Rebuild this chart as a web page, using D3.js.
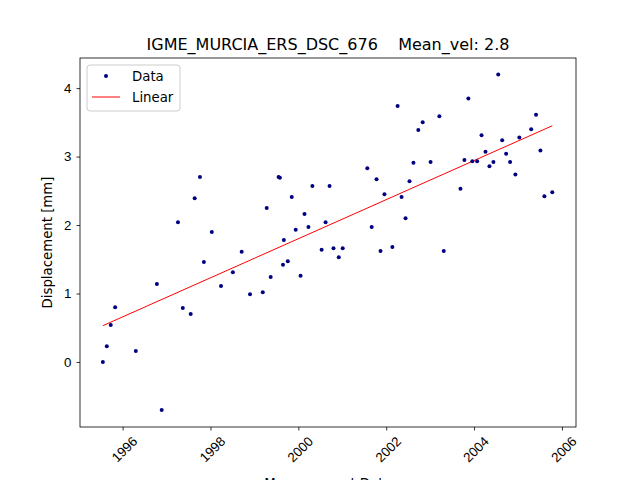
<!DOCTYPE html>
<html><head><meta charset="utf-8">
<script src="https://cdn.jsdelivr.net/npm/d3@7"></script>
<style>body{margin:0;background:#fff;overflow:hidden}svg{font-family:"DejaVu Sans",sans-serif;display:block}</style>
</head><body>
<script>
var years = [1995.55,1995.64,1995.73,1995.83,1996.30,1996.78,1996.89,1997.26,1997.37,1997.55,1997.64,1997.76,1997.85,1998.03,1998.24,1998.51,1998.71,1998.90,1999.19,1999.28,1999.37,1999.55,1999.58,1999.67,1999.65,1999.76,1999.85,1999.94,2000.05,2000.14,2000.23,2000.32,2000.53,2000.62,2000.71,2000.80,2000.92,2001.01,2001.57,2001.67,2001.78,2001.87,2001.96,2002.14,2002.26,2002.35,2002.44,2002.53,2002.62,2002.73,2002.83,2003.01,2003.21,2003.31,2003.69,2003.78,2003.87,2003.96,2004.07,2004.17,2004.26,2004.35,2004.44,2004.55,2004.64,2004.73,2004.82,2004.94,2005.03,2005.30,2005.41,2005.51,2005.60,2005.78];
var disp = [0.00,0.23,0.54,0.80,0.16,1.14,-0.70,2.04,0.79,0.70,2.39,2.70,1.46,1.90,1.11,1.31,1.61,0.99,1.02,2.25,1.24,2.70,2.69,1.78,1.42,1.47,2.41,1.93,1.26,2.16,1.97,2.57,1.64,2.04,2.57,1.66,1.53,1.66,2.83,1.97,2.67,1.62,2.45,1.68,3.74,2.41,2.10,2.64,2.91,3.39,3.50,2.92,3.59,1.62,2.53,2.95,3.85,2.93,2.93,3.31,3.07,2.86,2.92,4.20,3.24,3.04,2.92,2.74,3.28,3.40,3.61,3.09,2.42,2.48];
var fitYears = [1995.55, 2005.78];
var fitDisp = [0.53, 3.45];
var xTicks = [1996,1998,2000,2002,2004,2006];
var yTicks = [0,1,2,3,4];

var W = 640, H = 480, L = 80, R = 576, T = 58, B = 427;
var svg = d3.select("body").append("svg").attr("width", W).attr("height", H);
var x = d3.scaleLinear().domain([1995.03, 2006.32]).range([L, R]);
var y = d3.scaleLinear().domain([-0.95, 4.44]).range([B, T]);

var gx = svg.append("g").attr("transform", "translate(0," + B + ")")
  .call(d3.axisBottom(x).tickValues(xTicks).tickFormat(d3.format("d")).tickSize(3.5).tickPadding(3));
gx.selectAll("text").attr("font-size", 13.3).attr("fill", "#000")
  .attr("text-anchor", "end").attr("dy", "0.7em")
  .attr("transform", "translate(4,4) rotate(-45)");
var gy = svg.append("g").attr("transform", "translate(" + L + ",0)")
  .call(d3.axisLeft(y).tickValues(yTicks).tickFormat(d3.format("d")).tickSize(3.5).tickPadding(5));
gy.selectAll("text").attr("font-size", 13.3).attr("fill", "#000");
svg.selectAll(".domain").remove();
svg.selectAll(".tick line").attr("stroke", "#000").attr("stroke-width", 0.8);

svg.append("path")
  .datum(d3.zip(fitYears, fitDisp))
  .attr("d", d3.line().x(d => x(d[0])).y(d => y(d[1])))
  .attr("stroke", "red").attr("stroke-width", 1).attr("fill", "none");

svg.selectAll("circle.pt").data(d3.zip(years, disp)).enter().append("circle")
  .attr("class", "pt").attr("cx", d => x(d[0])).attr("cy", d => y(d[1]))
  .attr("r", 2).attr("fill", "#000080");

svg.append("rect").attr("x", L).attr("y", T).attr("width", R - L).attr("height", B - T)
  .attr("fill", "none").attr("stroke", "#000").attr("stroke-width", 0.8);

svg.append("text").attr("x", (L + R) / 2).attr("y", 50).attr("text-anchor", "middle")
  .attr("font-size", 16).style("white-space", "pre").text("IGME_MURCIA_ERS_DSC_676    Mean_vel: 2.8");
svg.append("text").attr("transform", "translate(52," + ((T + B) / 2) + ") rotate(-90)")
  .attr("text-anchor", "middle").attr("font-size", 13.3).text("Displacement [mm]");
svg.append("text").attr("x", (L + R) / 2).attr("y", 488).attr("text-anchor", "middle")
  .attr("font-size", 13.3).text("Measurement Date");

var lg = svg.append("g").attr("transform", "translate(87,65)");
lg.append("rect").attr("width", 93).attr("height", 46).attr("rx", 3)
  .attr("fill", "#fff").attr("fill-opacity", 0.8).attr("stroke", "#ccc");
lg.append("circle").attr("cx", 19).attr("cy", 11).attr("r", 2).attr("fill", "#000080");
lg.append("text").attr("x", 45).attr("y", 16).attr("font-size", 13.3).text("Data");
lg.append("line").attr("x1", 5).attr("x2", 33).attr("y1", 32).attr("y2", 32).attr("stroke", "red");
lg.append("text").attr("x", 45).attr("y", 37).attr("font-size", 13.3).text("Linear");
</script>
</body></html>
